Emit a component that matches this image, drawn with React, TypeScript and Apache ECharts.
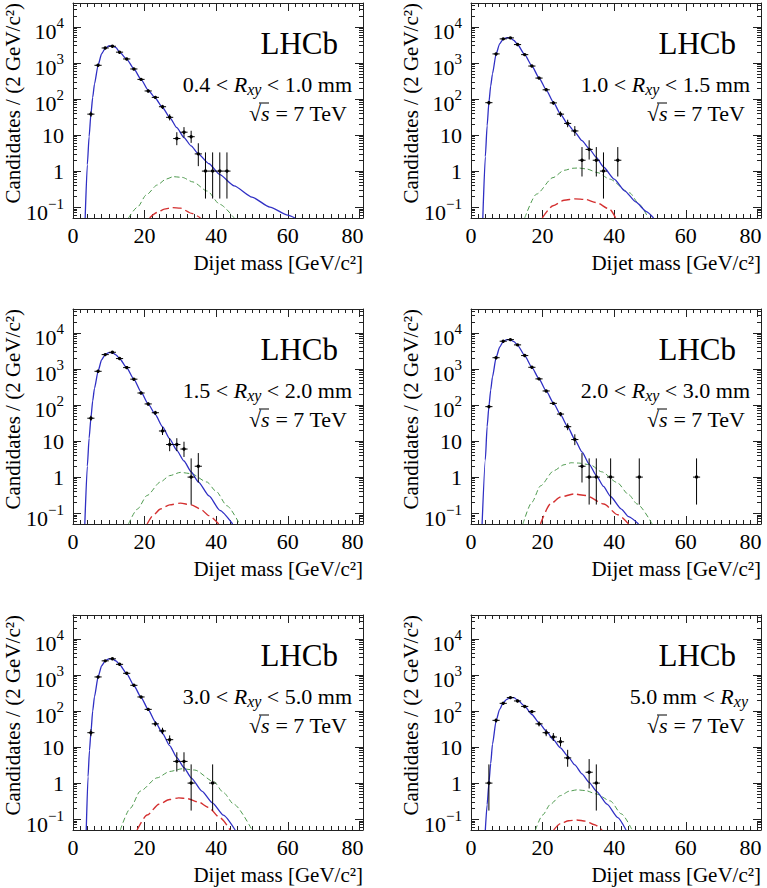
import React, { useEffect, useRef } from 'react';
import * as echarts from 'echarts';

// ---------------- data ----------------
const xTickValues = [0, 20, 40, 60, 80];
const xMinorTickValues = [2, 4, 6, 8, 10, 12, 14, 16, 18, 22, 24, 26, 28, 30, 32, 34, 36, 38, 42, 44, 46, 48, 50, 52, 54, 56, 58, 62, 64, 66, 68, 70, 72, 74, 76, 78];
const yTickValues = [0.1, 1, 10, 100, 1000, 10000];
const yMinorTickValues = [0.06, 0.07, 0.08, 0.09, 0.2, 0.3, 0.4, 0.5, 0.6, 0.7, 0.8, 0.9, 2, 3, 4, 5, 6, 7, 8, 9, 20, 30, 40, 50, 60, 70, 80, 90, 200, 300, 400, 500, 600, 700, 800, 900, 2000, 3000, 4000, 5000, 6000, 7000, 8000, 9000, 20000, 30000, 40000];

const rxyBefore = ['0.4 < ', '1.0 < ', '1.5 < ', '2.0 < ', '3.0 < ', '5.0 mm < '];
const rxyAfter = [' < 1.0 mm', ' < 1.5 mm', ' < 2.0 mm', ' < 3.0 mm', ' < 5.0 mm', ''];

const p1X = [5, 7, 9, 11, 13, 15, 17, 19, 21, 23, 25, 27, 29, 31, 33, 35, 37, 39, 41, 43];
const p1N = [38, 860, 2600, 2900, 1990, 1290, 680, 350, 167, 111, 61, 31, 8, 12, 9, 3, 1, 1, 1, 1];
const p1Lo = [32, 831, 2549, 2846, 1945, 1254, 654, 331, 154, 100.5, 53.2, 25.5, 5.23, 8.6, 6.06, 1.37, 0.173, 0.173, 0.173, 0.173];
const p1Hi = [45, 889, 2651, 2954, 2035, 1326, 706, 369, 180, 121.5, 68.8, 37.6, 11.98, 16.6, 13.15, 5.92, 3.3, 3.3, 3.3, 3.3];
const p1FitX = [3.4, 4, 4.5, 5, 5.5, 6, 7, 8, 9, 10, 11, 12, 13, 15, 17, 19, 21, 23, 25, 27, 29, 31, 33, 35, 38, 41, 45, 50, 55, 60, 62];
const p1Fit = [0.05, 1.5, 9, 38, 110, 260, 860, 1800, 2550, 2950, 3000, 2650, 2000, 1280, 690, 350, 175, 105, 58, 31, 16, 8.5, 5, 3, 1.6, 0.8, 0.39, 0.19, 0.1, 0.06, 0.05];
const p1GreenX = [15.5, 18, 20.5, 23.5, 26, 28, 30.5, 33.5, 37.5, 41, 45];
const p1Green = [0.05, 0.1, 0.22, 0.41, 0.6, 0.7, 0.67, 0.5, 0.28, 0.12, 0.05];
const p1RedX = [21.4, 23.5, 25.5, 27.7, 30, 33.2, 35.6];
const p1Red = [0.05, 0.071, 0.088, 0.097, 0.094, 0.067, 0.05];

const p2X = [5, 7, 9, 11, 13, 15, 17, 19, 21, 23, 25, 27, 29, 31, 33, 35, 37, 41];
const p2N = [79, 1780, 4650, 4950, 3230, 1700, 820, 380, 180, 78, 38, 21, 13, 2, 4, 2, 1, 2];
const p2Lo = [70.3, 1738, 4582, 4880, 3173, 1659, 791, 360.5, 166.6, 69.2, 32, 16.5, 9.46, 0.708, 2.09, 0.708, 0.173, 0.708];
const p2Hi = [87.9, 1822, 4718, 5020, 3287, 1741, 849, 399.5, 193.4, 86.8, 45, 26.6, 17.7, 4.64, 7.16, 4.64, 3.3, 4.64];
const p2FitX = [3.3, 4, 4.5, 5, 5.5, 6, 7, 8, 9, 10, 11, 12, 13, 15, 17, 19, 21, 23, 25, 27, 29, 31, 33, 35, 37, 40, 43, 46, 49, 51];
const p2Fit = [0.05, 2.5, 18, 80, 230, 500, 1750, 3400, 4600, 5000, 4900, 4200, 3250, 1700, 830, 385, 180, 82, 38, 20, 12, 7, 4.2, 2.4, 1.3, 0.6, 0.28, 0.14, 0.075, 0.05];
const p2GreenX = [15, 18.3, 22.9, 26, 28.5, 30, 32.2, 35.5, 38.7, 44.3, 47, 49.5];
const p2Green = [0.05, 0.23, 0.66, 1.05, 1.2, 1.22, 1.15, 0.9, 0.6, 0.25, 0.12, 0.05];
const p2RedX = [19.9, 22.9, 26, 29, 32, 35, 38.7, 40.4];
const p2Red = [0.05, 0.109, 0.155, 0.17, 0.163, 0.134, 0.088, 0.05];

const p3X = [5, 7, 9, 11, 13, 15, 17, 19, 21, 23, 25, 27, 29, 31, 33, 35];
const p3N = [43, 860, 2500, 2900, 1940, 1090, 520, 215, 107, 61, 19, 8, 8, 6, 1, 2];
const p3Lo = [36.5, 831, 2450, 2846, 1896, 1057, 497, 200.3, 96.7, 53.2, 14.7, 5.23, 5.23, 3.62, 0.173, 0.708];
const p3Hi = [50.5, 889, 2550, 2954, 1984, 1123, 543, 229.7, 117.3, 68.8, 24.4, 11.98, 11.98, 9.58, 3.3, 4.64];
const p3FitX = [3.3, 4, 4.5, 5, 5.5, 6, 7, 8, 9, 10, 11, 12, 13, 15, 17, 19, 21, 23, 25, 27, 29, 31, 33, 35, 38, 41, 44.6];
const p3Fit = [0.05, 2, 12, 43, 130, 290, 860, 1800, 2500, 2850, 2850, 2450, 1950, 1080, 520, 230, 107, 54, 25, 11.5, 5.5, 2.8, 1.4, 0.74, 0.3, 0.12, 0.05];
const p3GreenX = [15.5, 18, 20.7, 24.4, 27, 30, 33, 37.4, 40, 43, 46.5];
const p3Green = [0.05, 0.13, 0.31, 0.73, 1.1, 1.35, 1.25, 0.73, 0.4, 0.16, 0.05];
const p3RedX = [20.7, 22.5, 24.4, 27, 30, 33, 35.6, 38, 40.7];
const p3Red = [0.05, 0.09, 0.13, 0.17, 0.19, 0.17, 0.13, 0.085, 0.05];

const p4X = [5, 7, 9, 11, 13, 15, 17, 19, 21, 23, 25, 27, 29, 31, 33, 35, 39, 47, 63];
const p4N = [90, 2050, 5870, 6500, 4650, 2350, 1110, 530, 245, 111, 56, 25, 11, 2, 1, 1, 1, 1, 1];
const p4Lo = [80.5, 2005, 5793, 6419, 4582, 2302, 1077, 507, 229.4, 100.5, 48.5, 20, 7.7, 0.708, 0.173, 0.173, 0.173, 0.173, 0.173];
const p4Hi = [99.5, 2095, 5947, 6581, 4718, 2398, 1143, 553, 260.6, 121.5, 63.5, 31, 15.4, 4.64, 3.3, 3.3, 3.3, 3.3, 3.3];
const p4FitX = [3.1, 4, 4.5, 5, 5.5, 6, 7, 8, 9, 10, 11, 12, 13, 15, 17, 19, 21, 23, 25, 27, 29, 31, 33, 35, 37, 39, 42, 44, 46.8];
const p4Fit = [0.05, 3, 25, 90, 260, 600, 2050, 4000, 5800, 6500, 6500, 5700, 4600, 2350, 1110, 530, 245, 115, 54, 25, 11, 5, 2.3, 1.1, 0.55, 0.29, 0.13, 0.08, 0.05];
const p4GreenX = [14.5, 17, 19.4, 23.1, 26, 28, 30, 33.3, 36.5, 40.8, 44, 46.4, 50.6];
const p4Green = [0.05, 0.2, 0.57, 1.5, 2.2, 2.5, 2.45, 2.2, 1.4, 0.71, 0.33, 0.18, 0.05];
const p4RedX = [19.4, 22.2, 25, 28.7, 32, 37.1, 41, 44];
const p4Red = [0.05, 0.18, 0.28, 0.34, 0.31, 0.18, 0.09, 0.05];

const p5X = [5, 7, 9, 11, 13, 15, 17, 19, 21, 23, 25, 27, 29, 31, 33, 39];
const p5N = [25, 880, 2460, 2800, 1970, 1110, 515, 245, 111, 44, 28, 16, 4, 4, 1, 1];
const p5Lo = [20, 850, 2410, 2747, 1926, 1077, 492, 229.4, 100.5, 37.4, 22.7, 12.1, 2.09, 2.09, 0.173, 0.173];
const p5Hi = [31, 910, 2510, 2853, 2014, 1143, 538, 260.6, 121.5, 51.6, 34.3, 21, 7.16, 7.16, 3.3, 3.3];
const p5FitX = [3.7, 4.2, 4.6, 5, 5.5, 6, 7, 8, 9, 10, 11, 12, 13, 15, 17, 19, 21, 23, 25, 27, 29, 31, 33, 36, 39, 42, 45.3];
const p5Fit = [0.05, 1.5, 8, 25, 100, 250, 880, 1800, 2450, 2800, 2800, 2450, 1950, 1090, 510, 240, 110, 50, 24, 11, 5.1, 2.7, 1.4, 0.6, 0.28, 0.13, 0.05];
const p5GreenX = [13.2, 16, 18.8, 23.5, 27, 30.5, 34, 39.3, 42, 44.9, 50];
const p5Green = [0.05, 0.2, 0.6, 1.4, 2.1, 2.5, 2.3, 1.1, 0.55, 0.26, 0.05];
const p5RedX = [17.9, 20.7, 24, 27, 29.5, 32, 35, 37.9, 41, 43.9];
const p5Red = [0.05, 0.13, 0.26, 0.35, 0.39, 0.37, 0.3, 0.21, 0.11, 0.05];

const p6X = [5, 7, 9, 11, 13, 15, 17, 19, 21, 23, 25, 27, 33, 35];
const p6N = [1, 55, 163, 235, 190, 134, 96, 44, 25, 19, 14, 5, 2, 1];
const p6Lo = [0.173, 47.6, 150.3, 219.7, 176.2, 122.4, 86.2, 37.4, 20, 14.7, 10.3, 2.84, 0.708, 0.173];
const p6Hi = [3.3, 62.4, 175.7, 250.3, 203.8, 145.6, 105.8, 51.6, 31, 24.4, 18.8, 8.38, 4.64, 3.3];
const p6FitX = [4, 4.5, 5, 5.5, 6, 7, 8, 9, 10, 11, 12, 13, 15, 17, 19, 21, 23, 25, 27, 29, 31, 33, 35, 38, 41, 43.3];
const p6Fit = [0.05, 0.25, 1, 3.5, 12, 53, 111, 170, 210, 235, 235, 200, 137, 80, 47, 28, 16, 9.5, 5.6, 3.2, 1.8, 1.05, 0.6, 0.26, 0.11, 0.05];
const p6GreenX = [18, 20, 22.2, 25, 27.5, 29.6, 32, 35, 38.9, 42, 45];
const p6Green = [0.05, 0.13, 0.26, 0.45, 0.6, 0.65, 0.62, 0.5, 0.32, 0.14, 0.05];
const p6RedX = [23.1, 25, 27.3, 29.5, 32, 34.5, 36.6];
const p6Red = [0.05, 0.075, 0.09, 0.095, 0.088, 0.07, 0.05];

const panels = [
  { x: p1X, n: p1N, lo: p1Lo, hi: p1Hi, fitX: p1FitX, fit: p1Fit, gX: p1GreenX, g: p1Green, rX: p1RedX, r: p1Red },
  { x: p2X, n: p2N, lo: p2Lo, hi: p2Hi, fitX: p2FitX, fit: p2Fit, gX: p2GreenX, g: p2Green, rX: p2RedX, r: p2Red },
  { x: p3X, n: p3N, lo: p3Lo, hi: p3Hi, fitX: p3FitX, fit: p3Fit, gX: p3GreenX, g: p3Green, rX: p3RedX, r: p3Red },
  { x: p4X, n: p4N, lo: p4Lo, hi: p4Hi, fitX: p4FitX, fit: p4Fit, gX: p4GreenX, g: p4Green, rX: p4RedX, r: p4Red },
  { x: p5X, n: p5N, lo: p5Lo, hi: p5Hi, fitX: p5FitX, fit: p5Fit, gX: p5GreenX, g: p5Green, rX: p5RedX, r: p5Red },
  { x: p6X, n: p6N, lo: p6Lo, hi: p6Hi, fitX: p6FitX, fit: p6Fit, gX: p6GreenX, g: p6Green, rX: p6RedX, r: p6Red },
];

// ---------------- layout & style ----------------
const W = 767;
const H = 888;
const COL_LEFT = [73, 471];
const ROW_TOP = [3, 309, 615];
const GRID_W = 290;
const GRID_H = 215;
const X_MIN = 0;
const X_MAX = 81;
const Y_MIN = 0.05;
const Y_MAX = 46000;
const BIN_HALF = 1;
const FONT = 'Liberation Serif';
const FRAME = '#222';
const BLUE = '#2f2fc4';
const GREEN = '#4f9a4f';
const RED = '#d43030';

const zip = (a: number[], b: number[]) => a.map((v, i) => [v, b[i]]);

const renderErrorBar = (_params: any, api: any) => {
  const x = api.value(0);
  const y = api.value(1);
  const lo = api.value(2);
  const hi = api.value(3);
  const c = api.coord([x, y]);
  const l = api.coord([x - BIN_HALF, y]);
  const r = api.coord([x + BIN_HALF, y]);
  const t = api.coord([x, hi]);
  const b = api.coord([x, lo]);
  const st = { stroke: '#000', lineWidth: 1 };
  return {
    type: 'group',
    children: [
      { type: 'line', shape: { x1: l[0], y1: c[1], x2: r[0], y2: c[1] }, style: st },
      { type: 'line', shape: { x1: c[0], y1: t[1], x2: c[0], y2: b[1] }, style: st },
      { type: 'circle', shape: { cx: c[0], cy: c[1], r: 1.7 }, style: { fill: '#000' } },
    ],
  };
};

const yLabelFormatter = (v: number) => {
  const e = Math.round(Math.log10(v));
  if (e === 0) return '{b|1}';
  if (e === 1) return '{b|10}';
  return '{p|10}{s|' + (e < 0 ? '\u2212' + -e : String(e)) + '}';
};

const xLabelFormatter = (v: number) =>
  v === xTickValues[xTickValues.length - 1] ? '{r|' + v + '}' : '{n|' + v + '}';

function buildOption() {
  const grid: any[] = [];
  const xAxis: any[] = [];
  const yAxis: any[] = [];
  const series: any[] = [];
  const elements: any[] = [];
  const tickLine = { color: FRAME, width: 1 };
  const axisLine = { show: true, onZero: false, lineStyle: { color: FRAME, width: 1 } };

  panels.forEach((p, i) => {
    const col = i % 2;
    const row = Math.floor(i / 2);
    const left = COL_LEFT[col];
    const top = ROW_TOP[row];
    const right = left + GRID_W;
    const bottom = top + GRID_H;
    grid.push({ left, top, width: GRID_W, height: GRID_H, show: false, containLabel: false });

    const xb = {
      type: 'value', gridIndex: i, min: X_MIN, max: X_MAX,
      splitLine: { show: false }, axisLabel: { show: false },
      axisLine: { show: false, onZero: false }, axisTick: { show: false },
    };
    xAxis.push({
      ...xb, position: 'bottom', axisLine,
      axisTick: { show: true, inside: true, length: 8, customValues: xTickValues, lineStyle: tickLine },
      axisLabel: {
        show: true, customValues: xTickValues, margin: 6, color: '#000',
        formatter: xLabelFormatter,
        rich: {
          n: { fontSize: 22, fontFamily: FONT, color: '#000' },
          r: { fontSize: 22, fontFamily: FONT, color: '#000', padding: [0, 14, 0, 0] },
        },
      },
    });
    xAxis.push({ ...xb, position: 'bottom', axisTick: { show: true, inside: true, length: 4, customValues: xMinorTickValues, lineStyle: tickLine } });
    xAxis.push({ ...xb, position: 'top', axisLine, axisTick: { show: true, inside: true, length: 8, customValues: xTickValues, lineStyle: tickLine } });
    xAxis.push({ ...xb, position: 'top', axisTick: { show: true, inside: true, length: 4, customValues: xMinorTickValues, lineStyle: tickLine } });

    const yb = {
      type: 'log', logBase: 10, gridIndex: i, min: Y_MIN, max: Y_MAX,
      splitLine: { show: false }, axisLabel: { show: false },
      axisLine: { show: false, onZero: false }, axisTick: { show: false },
    };
    yAxis.push({
      ...yb, position: 'left', axisLine,
      axisTick: { show: true, inside: true, length: 8, customValues: yTickValues, lineStyle: tickLine },
      axisLabel: {
        show: true, customValues: yTickValues, margin: 9, color: '#000',
        formatter: yLabelFormatter,
        rich: {
          b: { fontSize: 22, fontFamily: FONT, color: '#000' },
          p: { fontSize: 22, fontFamily: FONT, color: '#000', verticalAlign: 'top', lineHeight: 22, padding: [5, 0, 0, 0] },
          s: { fontSize: 15, fontFamily: FONT, color: '#000', verticalAlign: 'top', lineHeight: 15 },
        },
      },
    });
    yAxis.push({ ...yb, position: 'left', axisTick: { show: true, inside: true, length: 4, customValues: yMinorTickValues, lineStyle: tickLine } });
    yAxis.push({ ...yb, position: 'right', axisLine, axisTick: { show: true, inside: true, length: 8, customValues: yTickValues, lineStyle: tickLine } });
    yAxis.push({ ...yb, position: 'right', axisTick: { show: true, inside: true, length: 4, customValues: yMinorTickValues, lineStyle: tickLine } });

    const xi = i * 4;
    const yi = i * 4;
    series.push({
      type: 'line', xAxisIndex: xi, yAxisIndex: yi, data: zip(p.gX, p.g),
      showSymbol: false, smooth: 0.25, smoothMonotone: 'x', clip: true, z: 2,
      lineStyle: { color: GREEN, width: 1, type: [5, 3] }, silent: true,
    });
    series.push({
      type: 'line', xAxisIndex: xi, yAxisIndex: yi, data: zip(p.rX, p.r),
      showSymbol: false, smooth: 0.25, smoothMonotone: 'x', clip: true, z: 2,
      lineStyle: { color: RED, width: 1.4, type: [9, 4] }, silent: true,
    });
    series.push({
      type: 'line', xAxisIndex: xi, yAxisIndex: yi, data: zip(p.fitX, p.fit),
      showSymbol: false, smooth: 0.2, smoothMonotone: 'x', clip: true, z: 3,
      lineStyle: { color: BLUE, width: 1.3 }, silent: true,
    });
    series.push({
      type: 'custom', xAxisIndex: xi, yAxisIndex: yi, clip: true, z: 4,
      data: p.x.map((x, k) => [x, p.n[k], p.lo[k], p.hi[k]]),
      encode: { x: 0, y: 1 },
      renderItem: renderErrorBar, silent: true,
    });

    // axis titles
    elements.push({
      type: 'text', x: left - 60, y: top, rotation: Math.PI / 2,
      style: { text: 'Candidates / (2 GeV/c\u00B2)', fontSize: 21, fontFamily: FONT, fill: '#000', align: 'right', verticalAlign: 'middle' },
    });
    elements.push({
      type: 'text', x: right, y: bottom + 45,
      style: { text: 'Dijet mass [GeV/c\u00B2]', fontSize: 21, fontFamily: FONT, fill: '#000', align: 'right', verticalAlign: 'middle' },
    });
    // annotations
    elements.push({
      type: 'text', x: right - 25, y: top + 40,
      style: { text: 'LHCb', fontSize: 31, fontFamily: FONT, fill: '#000', align: 'right', verticalAlign: 'middle' },
    });
    const rxyText = '{n|' + rxyBefore[i] + '}{i|R}{s|xy}' + (rxyAfter[i] ? '{n|' + rxyAfter[i] + '}' : '');
    elements.push({
      type: 'text', x: right - (i === 5 ? 13 : 11), y: top + 81,
      style: {
        text: rxyText, fill: '#000', align: 'right', verticalAlign: 'middle',
        rich: {
          n: { fontSize: 22, fontFamily: FONT, fill: '#000', verticalAlign: 'top', lineHeight: 22 },
          i: { fontSize: 22, fontFamily: FONT, fontStyle: 'italic', fill: '#000', verticalAlign: 'top', lineHeight: 22 },
          s: { fontSize: 16, fontFamily: FONT, fontStyle: 'italic', fill: '#000', verticalAlign: 'top', lineHeight: 16, padding: [8, 0, 0, 0] },
        },
      },
    });
    elements.push({
      type: 'text', x: right - 16, y: top + 110,
      style: {
        text: '{n|\u221A}{i|s}{n| = 7 TeV}', fill: '#000', align: 'right', verticalAlign: 'middle',
        rich: {
          n: { fontSize: 22, fontFamily: FONT, fill: '#000' },
          i: { fontSize: 22, fontFamily: FONT, fontStyle: 'italic', fill: '#000' },
        },
      },
    });
    elements.push({
      type: 'line', shape: { x1: right - 16 - 88, y1: top + 110 - 10, x2: right - 16 - 78, y2: top + 110 - 10 },
      style: { stroke: '#000', lineWidth: 1 },
    });
  });

  return {
    animation: false,
    backgroundColor: '#fff',
    grid, xAxis, yAxis, series,
    graphic: { elements },
  };
}

export default function App() {
  const ref = useRef<HTMLDivElement>(null);
  useEffect(() => {
    if (!ref.current) return;
    const chart = echarts.init(ref.current, undefined, { renderer: 'svg' });
    chart.setOption(buildOption() as any);
    return () => chart.dispose();
  }, []);
  return <div ref={ref} style={{ position: 'absolute', left: 0, top: 0, width: W, height: H }} />;
}
